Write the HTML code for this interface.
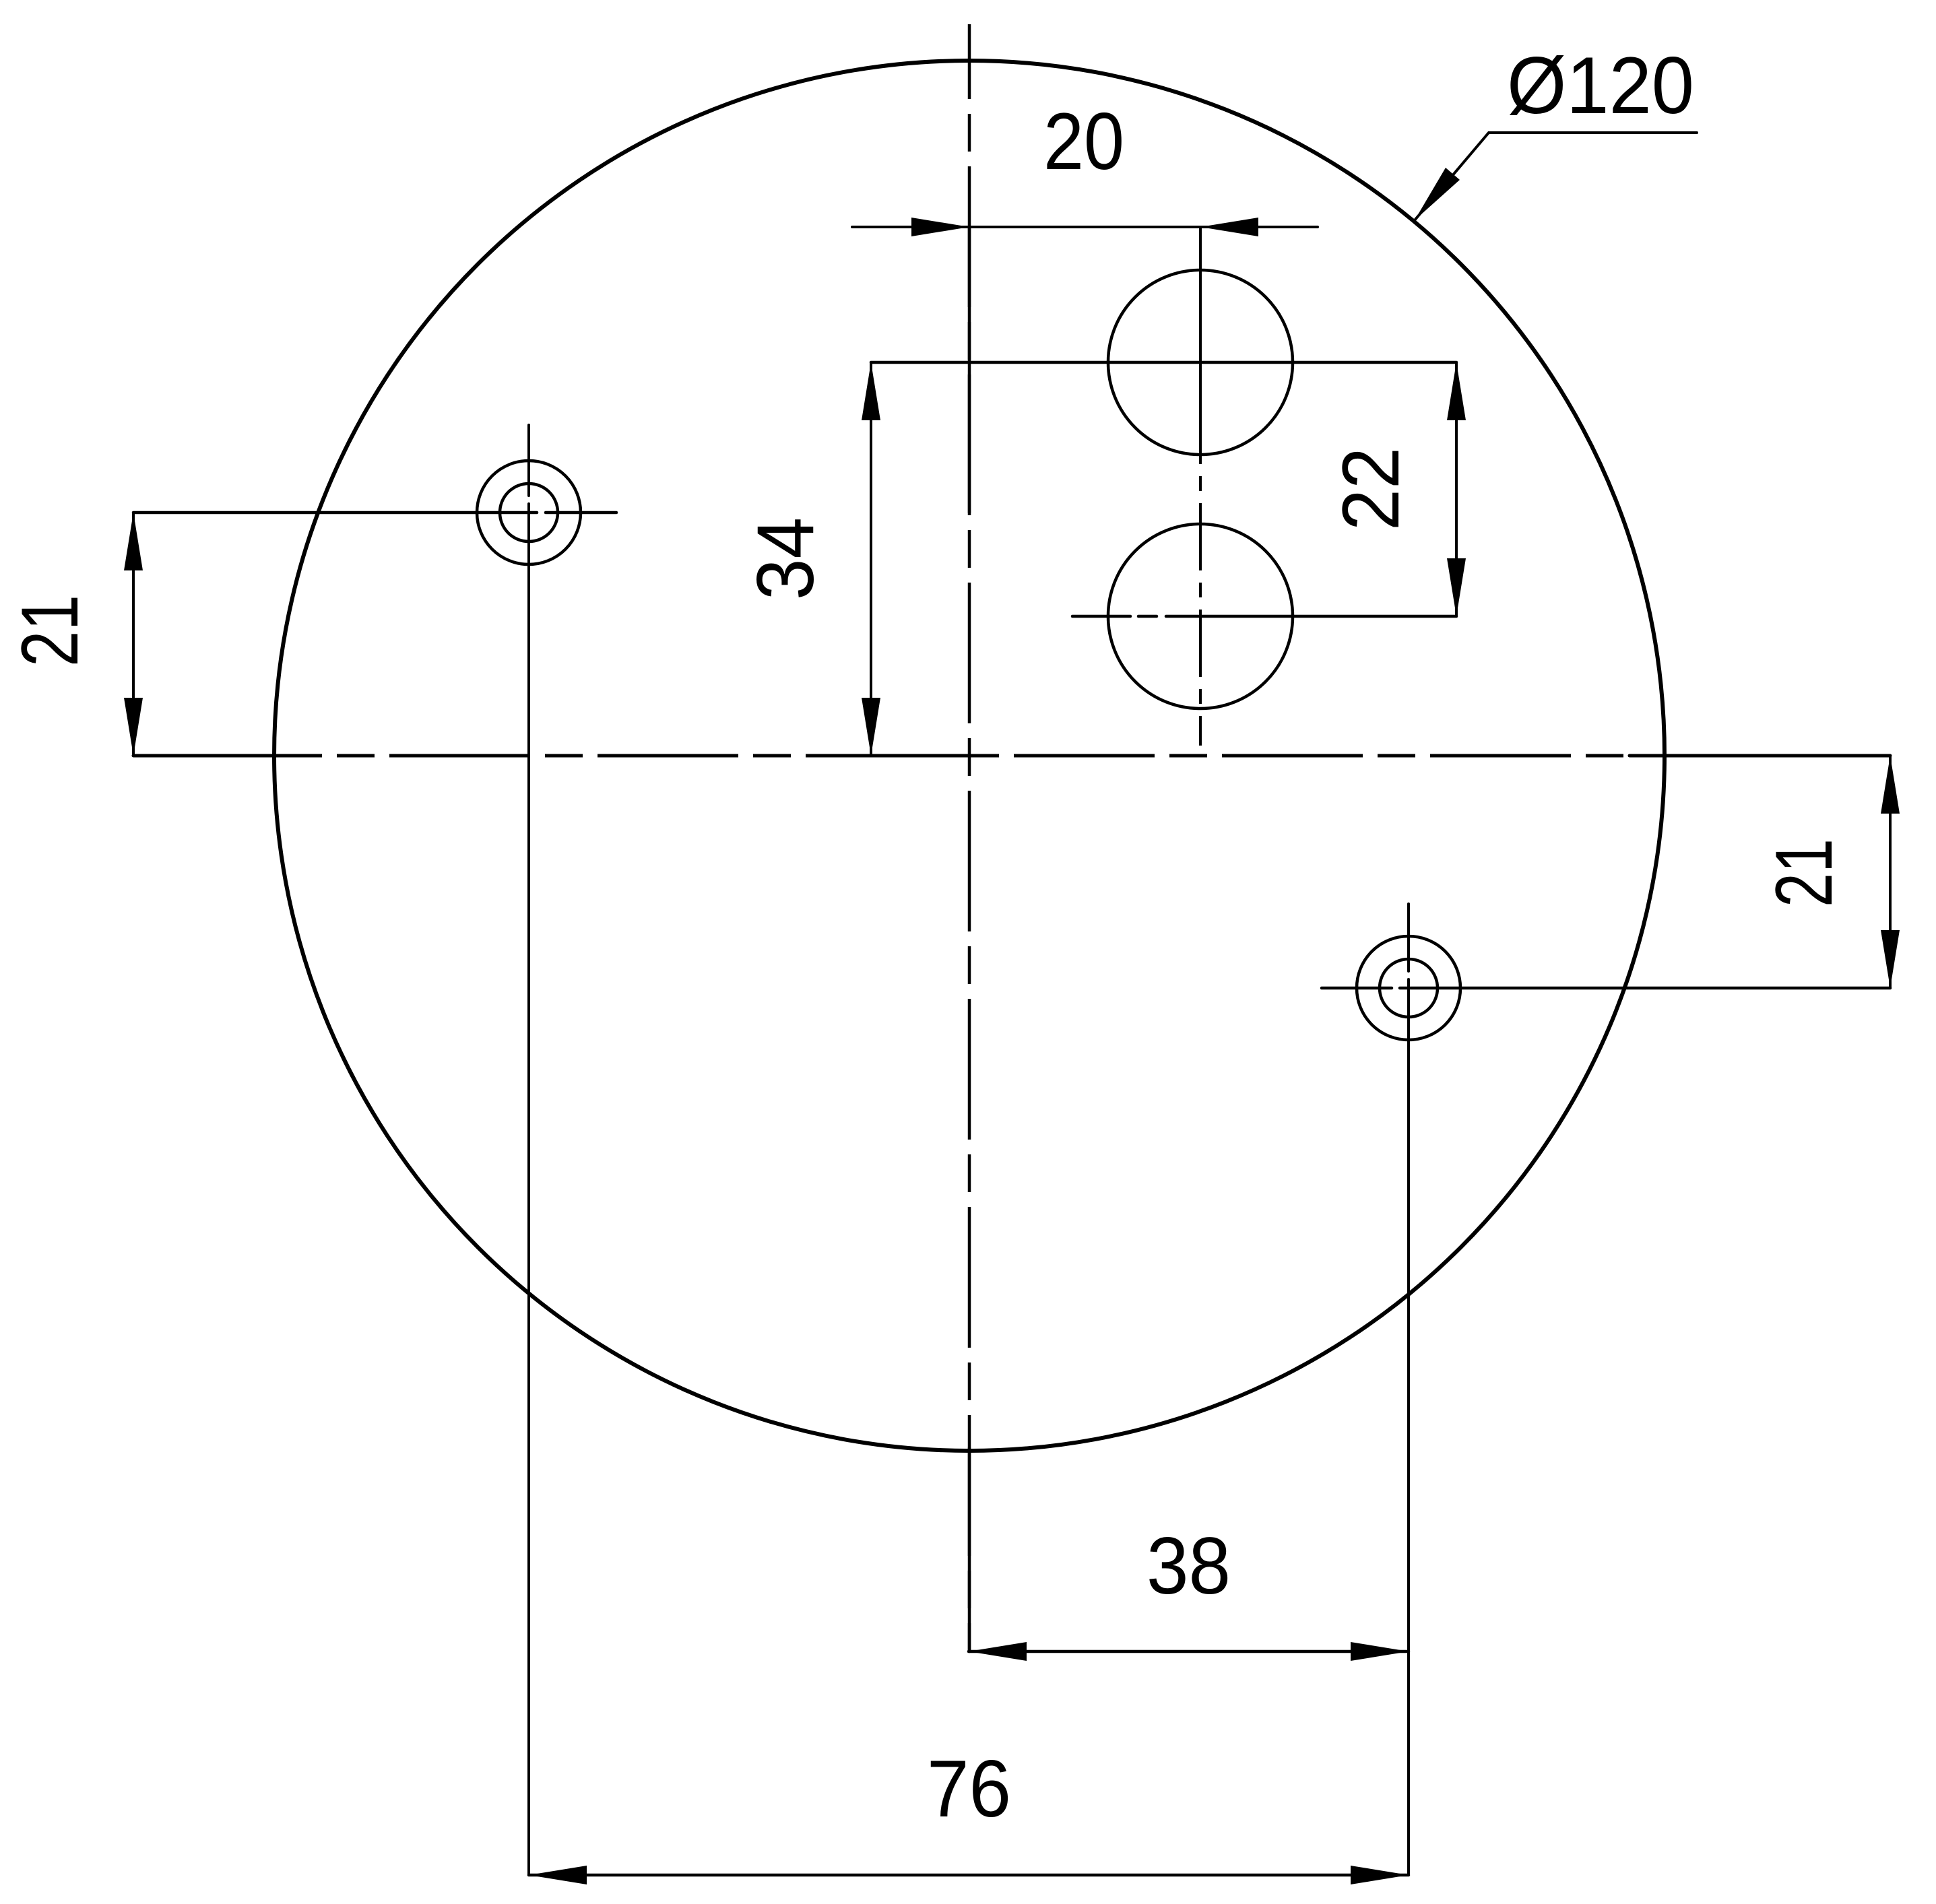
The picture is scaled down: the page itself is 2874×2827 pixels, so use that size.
<!DOCTYPE html>
<html><head><meta charset="utf-8"><style>
html,body{margin:0;padding:0;background:#fff}
svg{display:block}
text{font-family:"Liberation Sans",sans-serif;font-size:120px;fill:#000}
</style></head><body>
<svg width="2874" height="2827" viewBox="0 0 2874 2827" xmlns="http://www.w3.org/2000/svg">
<g stroke="#000" fill="none" stroke-linecap="round">
<circle cx="1439" cy="1122" r="1032" stroke-width="6"/>
<line x1="198" y1="1122" x2="2806" y2="1122" stroke-width="5" stroke-dasharray="209 22 56 22" stroke-dashoffset="238" stroke-linecap="butt"/>
<line x1="1439" y1="36" x2="1439" y2="2452" stroke-width="4.5" stroke-dasharray="209 22 56 22" stroke-dashoffset="98" stroke-linecap="butt"/>
<line x1="198" y1="1122" x2="459" y2="1122" stroke-width="5"/>
<line x1="1293" y1="1122" x2="1465" y2="1122" stroke-width="5"/>
<line x1="2419" y1="1122" x2="2806" y2="1122" stroke-width="5"/>
<line x1="1439" y1="337" x2="1439" y2="761" stroke-width="4.5"/>
<line x1="1439" y1="2150" x2="1439" y2="2452" stroke-width="4.5"/>
<circle cx="1782" cy="538" r="137" stroke-width="4.5"/>
<circle cx="1782" cy="915" r="137" stroke-width="4.5"/>
<line x1="1782" y1="337" x2="1782" y2="589" stroke-width="4"/>
<line x1="1782" y1="589" x2="1782" y2="1107" stroke-width="4" stroke-dasharray="100 18 22 18" stroke-linecap="butt"/>
<line x1="1293" y1="538" x2="2162" y2="538" stroke-width="4.5"/>
<line x1="1592" y1="915" x2="1678" y2="915" stroke-width="4.5"/>
<line x1="1690" y1="915" x2="1717" y2="915" stroke-width="4.5"/>
<line x1="1731" y1="915" x2="2162" y2="915" stroke-width="4.5"/>
<circle cx="785" cy="761" r="77" stroke-width="4.5"/>
<circle cx="785" cy="761" r="43" stroke-width="4.5"/>
<line x1="785" y1="631" x2="785" y2="736" stroke-width="4"/>
<line x1="785" y1="748" x2="785" y2="2784" stroke-width="4"/>
<line x1="198" y1="761" x2="797" y2="761" stroke-width="4.5"/>
<line x1="810" y1="761" x2="915" y2="761" stroke-width="4.5"/>
<circle cx="2091" cy="1467" r="77" stroke-width="4.5"/>
<circle cx="2091" cy="1467" r="43" stroke-width="4.5"/>
<line x1="2091" y1="1342" x2="2091" y2="1442" stroke-width="4"/>
<line x1="2091" y1="1454" x2="2091" y2="2784" stroke-width="4"/>
<line x1="1962" y1="1467" x2="2066" y2="1467" stroke-width="4.5"/>
<line x1="2078" y1="1467" x2="2806" y2="1467" stroke-width="4.5"/>
<line x1="1265" y1="337" x2="1956" y2="337" stroke-width="4"/>
<line x1="1293" y1="538" x2="1293" y2="1122" stroke-width="4"/>
<line x1="2162" y1="538" x2="2162" y2="915" stroke-width="4"/>
<line x1="198" y1="761" x2="198" y2="1122" stroke-width="4"/>
<line x1="2806" y1="1122" x2="2806" y2="1467" stroke-width="4"/>
<line x1="1438" y1="2452" x2="2091" y2="2452" stroke-width="4.5"/>
<line x1="785" y1="2784" x2="2091" y2="2784" stroke-width="4.5"/>
<polyline points="2100,327 2210,197 2519,197" stroke-width="4"/>
</g>
<g fill="#000" stroke="none">
<polygon points="1439,337 1353,323 1353,351"/>
<polygon points="1782,337 1868,323 1868,351"/>
<polygon points="1293,538 1279,624 1307,624"/>
<polygon points="1293,1122 1279,1036 1307,1036"/>
<polygon points="2162,538 2148,624 2176,624"/>
<polygon points="2162,915 2148,829 2176,829"/>
<polygon points="198,761 184,847 212,847"/>
<polygon points="198,1122 184,1036 212,1036"/>
<polygon points="2806,1122 2792,1208 2820,1208"/>
<polygon points="2806,1467 2792,1381 2820,1381"/>
<polygon points="1438,2452 1524,2438 1524,2466"/>
<polygon points="2091,2452 2005,2438 2005,2466"/>
<polygon points="785,2784 871,2770 871,2798"/>
<polygon points="2091,2784 2005,2770 2005,2798"/>
<polygon points="2100,327 2146,249 2167,267"/>
</g>
<g>
<text x="1549" y="251" textLength="120" lengthAdjust="spacingAndGlyphs">20</text>
<text x="2237" y="168" textLength="278" lengthAdjust="spacingAndGlyphs">Ø120</text>
<text x="1702" y="2366" textLength="125" lengthAdjust="spacingAndGlyphs">38</text>
<text x="1376" y="2697" textLength="125" lengthAdjust="spacingAndGlyphs">76</text>
<text transform="translate(115,990) rotate(-90)" textLength="107" lengthAdjust="spacingAndGlyphs">21</text>
<text transform="translate(2719,1347) rotate(-90)" textLength="102" lengthAdjust="spacingAndGlyphs">21</text>
<text transform="translate(1207,891) rotate(-90)" textLength="123" lengthAdjust="spacingAndGlyphs">34</text>
<text transform="translate(2076,788) rotate(-90)" textLength="124" lengthAdjust="spacingAndGlyphs">22</text>
</g>
</svg>
</body></html>
